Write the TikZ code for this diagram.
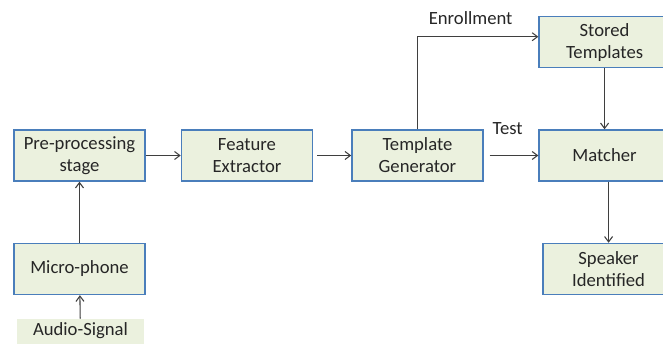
\documentclass[tikz,border=0pt]{standalone}
\usepackage{fontspec}
\setmainfont{Carlito}
\usetikzlibrary{arrows.meta,positioning}
\definecolor{boxline}{HTML}{4A7EBB}
\definecolor{boxfill}{HTML}{EBF1DE}
\definecolor{wire}{HTML}{3F3F3F}

\begin{document}
\begin{tikzpicture}[x=0.75pt,y=-0.75pt,
  b/.style={draw=boxline,fill=boxfill,line width=1.1pt,align=center,inner sep=0pt,
    minimum width=98.25pt,minimum height=38.25pt,font=\fontsize{14}{16.5}\selectfont,text=black!85},
  a/.style={-{Straight Barb[length=4pt,width=6pt]},draw=wire,line width=0.8pt},
  lbl/.style={font=\fontsize{14}{16.5}\selectfont,text=black!85}]
  \clip (0,0) rectangle (663,343);
  \node[b] (pre) at (79.5,155.5) {Pre-processing\\stage};
  \node[b,right=26.25pt of pre] (fe) {Feature\\Extractor};
  \node[b,right=28.5pt of fe] (tg) {Template\\Generator};
  \node[b,right=41pt of tg] (ma) {Matcher};
  \node[b,above=45.75pt of ma] (st) {Stored\\Templates};
  \node[b,below=45.75pt of ma,xshift=3pt] (sp) {Speaker\\Identified};
  \node[b,below=45.75pt of pre] (mic) {Micro-phone};
  \node[b,draw=none,below=17.5pt of mic,xshift=0.75pt,minimum width=95.25pt,minimum height=0pt,
    text height=12.5pt,text depth=14pt] (au) {Audio-Signal};
  % connectors
  \draw[a] (au)--(mic); \draw[a] (mic)--(pre);
  \draw[a] (pre)--(fe); \draw[a] ([xshift=3pt]fe.east)--(tg);
  \draw[a] (tg.north) |- node[lbl,pos=0.72,above=5pt]{Enrollment} ([yshift=4pt]st.west);
  \draw[a] ([xshift=4.5pt]tg.east)-- node[lbl,pos=0.37,above=12pt]{Test}(ma);
  \draw[a] (st)--(ma);
  \draw[a] (ma.south-|sp.north)--(sp);
\end{tikzpicture}
\end{document}
